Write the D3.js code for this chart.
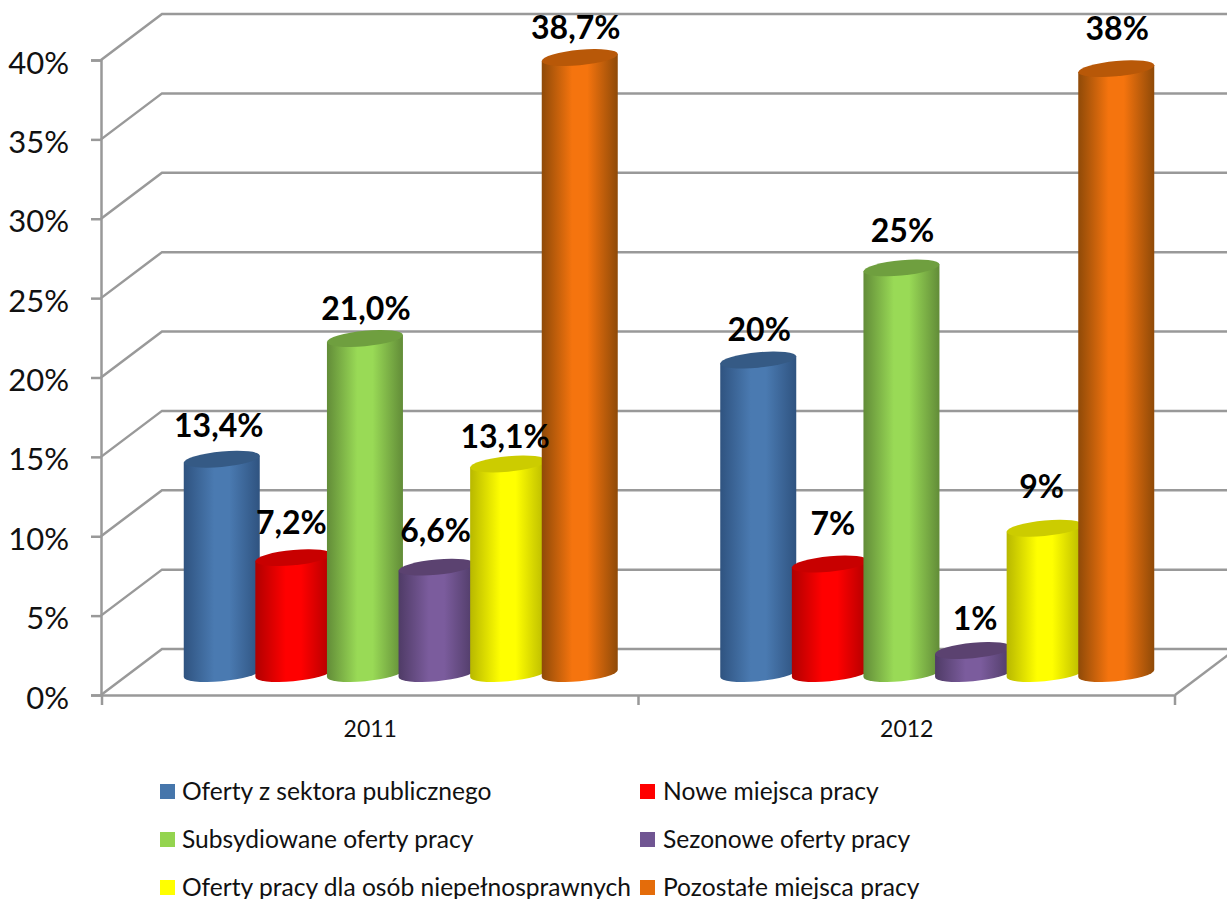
<!DOCTYPE html>
<html>
<head>
<meta charset="utf-8">
<script src="https://cdnjs.cloudflare.com/ajax/libs/d3/7.8.5/d3.min.js"></script>
<style>
  html, body { margin: 0; padding: 0; background: #fff; overflow: hidden; }
  svg { display: block; font-family: Lato, sans-serif; }
</style>
</head>
<body>
<svg width="1227" height="899"></svg>
<script>
var years = ['2011', '2012'];
var seriesNames = [
  'Oferty z sektora publicznego',
  'Nowe miejsca pracy',
  'Subsydiowane oferty pracy',
  'Sezonowe oferty pracy',
  'Oferty pracy dla osób niepełnosprawnych',
  'Pozostałe miejsca pracy'
];
// heights as drawn in the picture, the printed labels are rounded differently
var values2011 = [13.5, 7.3, 21.1, 6.7, 13.2, 38.8];
var values2012 = [19.75, 6.9, 25.55, 1.45, 9.15, 38.1];
var labels2011 = ['13,4%', '7,2%', '21,0%', '6,6%', '13,1%', '38,7%'];
var labels2012 = ['20%', '7%', '25%', '1%', '9%', '38%'];
var yTicks = [0, 5, 10, 15, 20, 25, 30, 35, 40];

var midColors = ['#4a7ab1', '#ff0000', '#99da56', '#7b5c9d', '#ffff00', '#f5740e'];
var edgeColors = ['#2f5380', '#b00000', '#628c38', '#4f3b66', '#b8b800', '#8f4a08'];
var topColors = ['#355a85', '#c80000', '#6f9f3f', '#5b4270', '#cccc00', '#b85808'];
var legendColors = ['#4676ab', '#ff0000', '#94d44f', '#705592', '#ffff00', '#e46c0a'];

// hand placed labels in the original, nudges from the default spot above the bar
var labelNudge = [[[-1, 5], [0, 3], [3, 8], [1, 2], [-1, 11], [-2, 8]],
                  [[3, 8], [5, -2], [3, 1], [4, 7], [-1, -3], [3, -2]]];

var svg = d3.select('svg');
var gridColor = '#999';
var depthX = 61, depthY = 46;
var r = 38, ry = 7.7, tilt = 3.5;

var y = d3.scaleLinear().domain([0, 40]).range([695, 60]);
var x0 = d3.scaleBand().domain(years).range([102, 1175]);
var x1 = d3.scalePoint().domain(d3.range(6)).range([-179, 179]);

var defs = svg.append('defs');
midColors.forEach(function(c, i) {
  var grad = defs.append('linearGradient').attr('id', 'cyl' + i);
  grad.append('stop').attr('offset', '0%').attr('stop-color', edgeColors[i]);
  grad.append('stop').attr('offset', '40%').attr('stop-color', c);
  grad.append('stop').attr('offset', '60%').attr('stop-color', c);
  grad.append('stop').attr('offset', '100%').attr('stop-color', edgeColors[i]);
});

// back wall and side wall gridlines
var grid = svg.append('g')
  .attr('stroke', gridColor)
  .attr('stroke-width', 2.5)
  .attr('fill', 'none');

grid.selectAll('path.wall')
  .data(yTicks)
  .enter()
  .append('path')
  .attr('class', 'wall')
  .attr('d', function(d) {
    return 'M101,' + y(d) + 'L' + (101 + depthX) + ',' + (y(d) - depthY) + 'H1240';
  });

grid.append('path')
  .attr('d', 'M' + x0.range()[1] + ',' + y(0) + 'l' + depthX + ',' + (-depthY));

// axes
var yAxis = svg.append('g')
  .attr('transform', 'translate(101,0)')
  .call(d3.axisLeft(y).tickValues(yTicks).tickSize(10).tickPadding(22)
    .tickFormat(function(d) { return d + '%'; }));
yAxis.selectAll('line').attr('stroke', gridColor).attr('stroke-width', 2.5);
yAxis.select('.domain').attr('stroke', gridColor).attr('stroke-width', 2.5);
yAxis.selectAll('text')
  .attr('font-family', 'Lato, sans-serif')
  .attr('font-size', 31)
  .attr('fill', '#111')
  .attr('dy', 13);

var xAxis = svg.append('g')
  .attr('transform', 'translate(0,' + y(0) + ')')
  .call(d3.axisBottom(x0).tickSize(0).tickPadding(26));
xAxis.select('.domain').attr('stroke', gridColor).attr('stroke-width', 2.5);
xAxis.selectAll('text')
  .attr('font-family', 'Lato, sans-serif')
  .attr('font-size', 23)
  .attr('fill', '#111');

svg.append('g').selectAll('line')
  .data([0, 1, 2])
  .enter()
  .append('line')
  .attr('x1', function(d) { return x0.range()[0] + d * x0.step(); })
  .attr('x2', function(d) { return x0.range()[0] + d * x0.step(); })
  .attr('y1', y(0))
  .attr('y2', y(0) + 10)
  .attr('stroke', gridColor)
  .attr('stroke-width', 2.5);

// cylinders
var groups = [
  { year: '2011', values: values2011, labels: labels2011 },
  { year: '2012', values: values2012, labels: labels2012 }
];
var skew = -Math.atan(tilt / r) * 180 / Math.PI;

groups.forEach(function(g, gi) {
  var cx = function(i) { return x0(g.year) + x0.bandwidth() / 2 + depthX / 2 + x1(i); };
  var base = y(0) - 21.5;

  var bars = svg.append('g').selectAll('g')
    .data(g.values)
    .enter()
    .append('g')
    .attr('transform', function(d, i) {
      return 'translate(' + cx(i) + ',' + base + ') skewY(' + skew + ')';
    });

  bars.append('path')
    .attr('fill', function(d, i) { return 'url(#cyl' + i + ')'; })
    .attr('d', function(d) {
      var h = y(0) - y(d);
      return 'M' + (-r) + ',0A' + r + ',' + ry + ' 0 0 0 ' + r + ',0V' + (-h) +
        'H' + (-r) + 'Z';
    });

  bars.append('ellipse')
    .attr('rx', r)
    .attr('ry', ry)
    .attr('cy', function(d) { return y(d) - y(0); })
    .attr('fill', function(d, i) { return topColors[i]; });

  svg.append('g').selectAll('text')
    .data(g.labels)
    .enter()
    .append('text')
    .attr('x', function(d, i) { return cx(i) - 2 + labelNudge[gi][i][0]; })
    .attr('y', function(d, i) { return base - (y(0) - y(g.values[i])) - 27 + labelNudge[gi][i][1]; })
    .attr('text-anchor', 'middle')
    .attr('font-size', 32)
    .attr('font-weight', 700)
    .attr('fill', '#000')
    .text(function(d) { return d; });
});

// legend, two columns, row order follows the series
var legendX = d3.scalePoint().domain([0, 1]).range([160, 640]);
var legendY = d3.scalePoint().domain([0, 1, 2]).range([784, 880]);

var legend = svg.append('g').selectAll('g')
  .data(seriesNames)
  .enter()
  .append('g')
  .attr('transform', function(d, i) {
    return 'translate(' + legendX(i % 2) + ',' + legendY(Math.floor(i / 2)) + ')';
  });

legend.append('rect')
  .attr('width', 15)
  .attr('height', 15)
  .attr('fill', function(d, i) { return legendColors[i]; });

legend.append('text')
  .attr('x', function(d, i) { return i % 2 ? 23 : 22; })
  .attr('y', 16)
  .attr('font-size', 24.6)
  .attr('fill', '#111')
  .text(function(d) { return d; });
</script>
</body>
</html>
